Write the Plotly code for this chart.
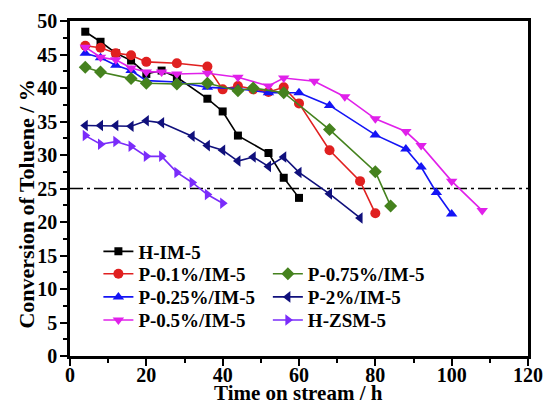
import plotly.graph_objects as go

# ---- data ----
h_im5_x = [4, 8, 12, 16, 20, 24, 28, 36, 40, 44, 52, 56, 60]
h_im5_y = [48.4, 46.9, 45.2, 44.1, 42.1, 42.6, 41.6, 38.4, 36.5, 32.9, 30.3, 26.6, 23.6]

p01_x = [4, 8, 12, 16, 20, 28, 36, 40, 44, 48, 52, 56, 60, 68, 76, 80]
p01_y = [46.3, 46.0, 45.2, 44.9, 43.9, 43.7, 43.2, 39.8, 40.3, 39.8, 39.4, 40.1, 37.7, 30.7, 26.1, 21.3]

p025_x = [4, 8, 12, 16, 20, 28, 36, 44, 52, 60, 68, 80, 88, 92, 96, 100]
p025_y = [45.2, 44.5, 43.4, 42.6, 41.1, 40.9, 40.1, 39.9, 39.3, 39.3, 37.4, 33.0, 30.9, 28.2, 24.4, 21.2]

p05_x = [4, 8, 12, 16, 20, 24, 28, 36, 44, 52, 56, 64, 72, 80, 88, 92, 100, 108]
p05_y = [46.1, 44.6, 44.2, 43.0, 42.4, 42.4, 42.1, 42.2, 41.6, 40.3, 41.5, 41.0, 38.7, 35.4, 33.5, 31.4, 26.1, 21.7]

p075_x = [4, 8, 16, 20, 28, 36, 44, 48, 56, 68, 80, 84]
p075_y = [43.1, 42.4, 41.4, 40.7, 40.6, 40.7, 39.6, 40.0, 39.3, 33.8, 27.5, 22.4]

p2_x = [4, 8, 12, 16, 20, 24, 32, 36, 40, 44, 48, 52, 56, 60, 68, 76]
p2_y = [34.4, 34.4, 34.4, 34.3, 35.1, 34.8, 32.8, 31.4, 30.7, 29.1, 29.7, 28.3, 29.7, 27.4, 24.2, 20.6]

hzsm_x = [4, 8, 12, 16, 20, 24, 28, 32, 36, 40]
hzsm_y = [32.9, 31.6, 32.0, 31.3, 29.8, 29.8, 27.4, 25.9, 24.1, 22.8]

ref_x = [0, 120]
ref_y = [25, 25]

x_ticks = [0, 20, 40, 60, 80, 100, 120]
y_ticks = [0, 5, 10, 15, 20, 25, 30, 35, 40, 45, 50]

FONT = "Liberation Serif, Times New Roman, serif"

# name, x, y, colour, symbol, size, legend slot (column x, row y in paper coords)
series = [
    ("H-IM-5", h_im5_x, h_im5_y, "#000000", "square", 8, (0.062, 0.312)),
    ("P-0.1%/IM-5", p01_x, p01_y, "#E02020", "circle", 10, (0.062, 0.245)),
    ("P-0.25%/IM-5", p025_x, p025_y, "#1414F5", "triangle-up", 10, (0.062, 0.176)),
    ("P-0.5%/IM-5", p05_x, p05_y, "#E020EA", "triangle-down", 10, (0.062, 0.107)),
    ("P-0.75%/IM-5", p075_x, p075_y, "#45821E", "diamond", 10, (0.432, 0.245)),
    ("P-2%/IM-5", p2_x, p2_y, "#10107C", "triangle-left", 10, (0.432, 0.176)),
    ("H-ZSM-5", hzsm_x, hzsm_y, "#7A2CFA", "triangle-right", 10, (0.432, 0.107)),
]

fig = go.Figure()

fig.add_trace(go.Scatter(x=ref_x, y=ref_y, mode="lines", showlegend=False,
                         line=dict(color="black", width=1.5, dash="13px,4px,3px,4px"),
                         hoverinfo="skip"))

legend_font = dict(family=FONT, size=19, color="black", weight="bold")
legend_layout = {}
for i, (name, xs, ys, color, sym, size, pos) in enumerate(series):
    key = "legend" if i == 0 else f"legend{i + 1}"
    fig.add_trace(go.Scatter(
        x=xs, y=ys, mode="lines+markers", name=name, legend=key,
        line=dict(color=color, width=1.6),
        marker=dict(symbol=sym, size=size, color=color, line=dict(width=0)),
    ))
    legend_layout[key] = dict(x=pos[0], y=pos[1], xanchor="left", yanchor="middle",
                              font=legend_font, bgcolor="rgba(0,0,0,0)",
                              itemwidth=30)

axis_common = dict(
    showline=True, linecolor="black", linewidth=2.5, mirror=True,
    ticks="outside", ticklen=7, tickwidth=2, tickcolor="black",
    showgrid=False, zeroline=False, automargin=False,
    tickfont=dict(family=FONT, size=20, color="black", weight="bold"),
    minor=dict(ticks="outside", ticklen=4, tickwidth=2, tickcolor="black", showgrid=False),
)

fig.update_xaxes(range=[0, 120], tickvals=x_ticks, minor_dtick=10,
                 ticklabelstandoff=-8, **axis_common)
fig.update_yaxes(range=[0, 50], tickvals=y_ticks, minor_dtick=2.5,
                 ticklabelstandoff=-1, **axis_common)

title_font = dict(family=FONT, size=21, color="black", weight="bold")
fig.add_annotation(text="Time on stream / h", xref="paper", yref="paper",
                   x=0.498, y=0, xanchor="center", yanchor="middle",
                   yshift=-37, showarrow=False, font=title_font)
fig.add_annotation(text="Conversion of Toluene / %", xref="paper", yref="paper",
                   x=0, y=0.452, xanchor="center", yanchor="middle",
                   xshift=-43, textangle=-90, showarrow=False,
                   font=dict(family=FONT, size=22, color="black", weight="bold"))

fig.update_layout(
    width=543, height=403,
    margin=dict(l=70, r=15, t=21, b=47),
    paper_bgcolor="white", plot_bgcolor="white",
    **legend_layout,
)

fig.write_html("out.html")
